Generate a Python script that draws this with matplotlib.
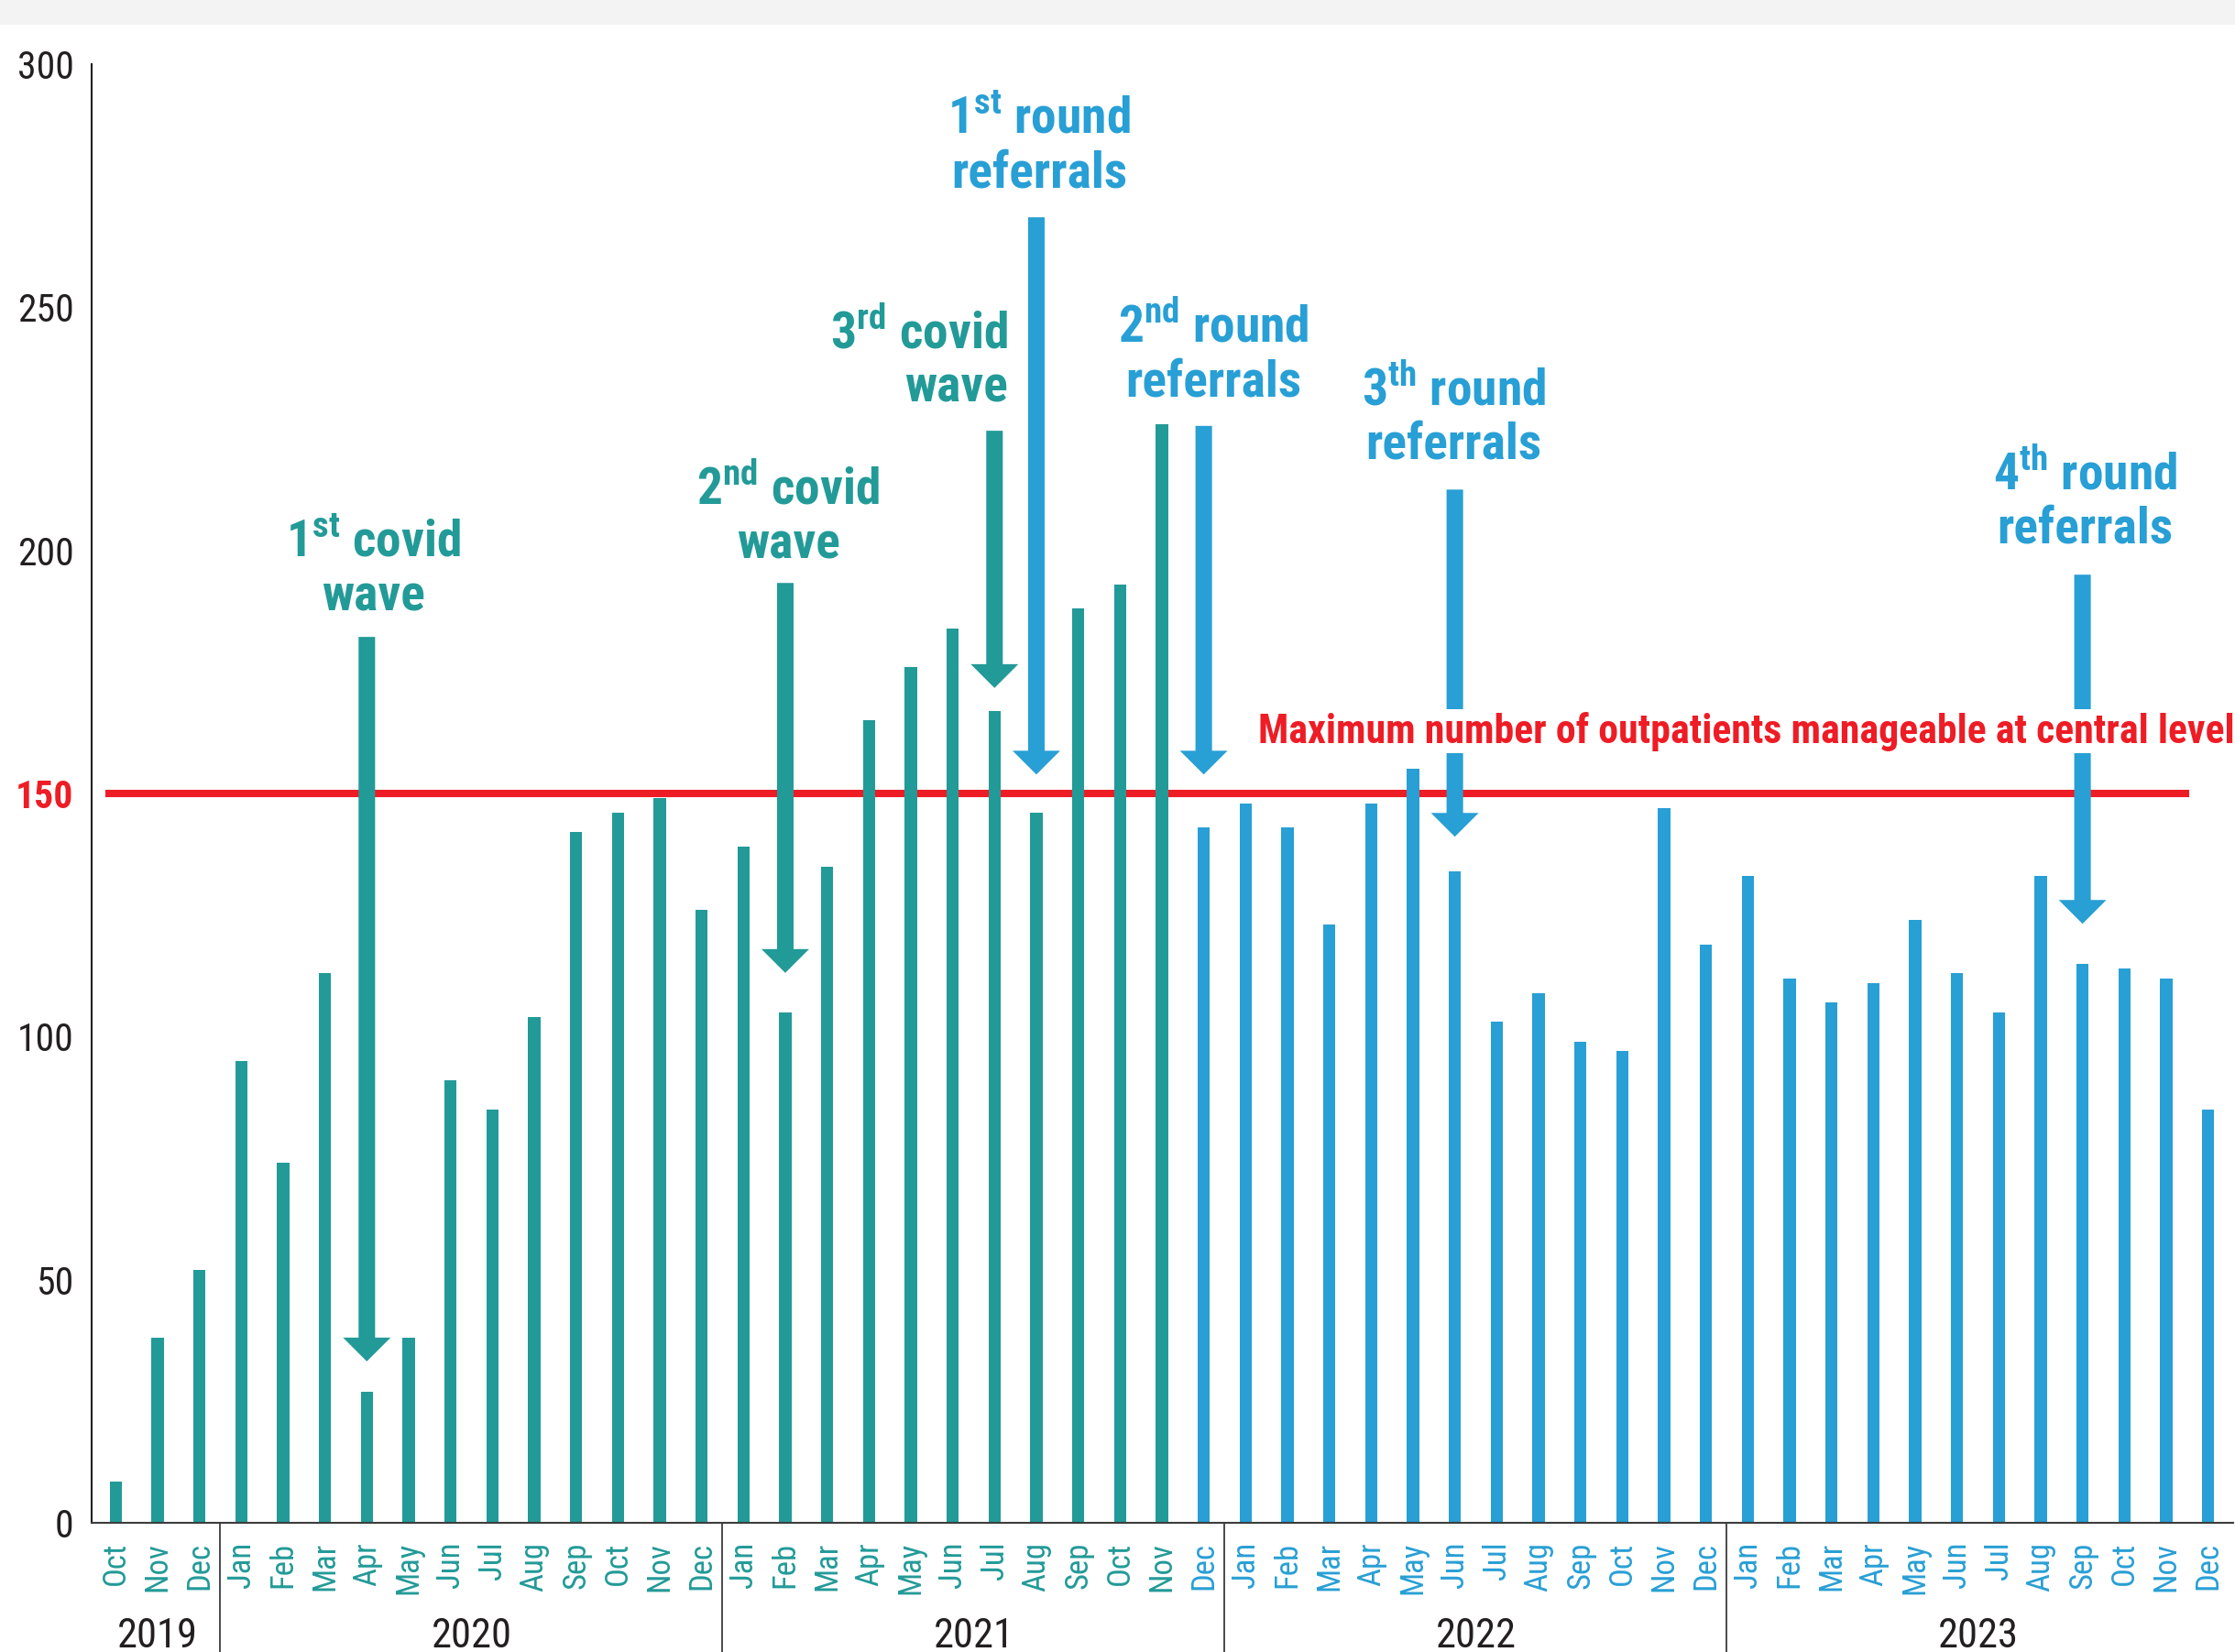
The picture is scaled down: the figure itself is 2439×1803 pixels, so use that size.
import matplotlib
matplotlib.use('Agg')
import matplotlib.pyplot as plt
from matplotlib import font_manager as fm
from matplotlib.patches import FancyArrowPatch, Rectangle, ArrowStyle
import matplotlib.transforms as mtransforms

names = {f.name for f in fm.fontManager.ttflist}
if 'Liberation Sans Narrow' in names:
    FAM = 'Liberation Sans Narrow'
elif 'Roboto Condensed' in names:
    FAM = 'Roboto Condensed'
else:
    FAM = 'Roboto'

plt.rcParams['font.family'] = [FAM, 'DejaVu Sans']
plt.rcParams['mathtext.fontset'] = 'custom'
plt.rcParams['mathtext.bf'] = f'{FAM}:bold'
plt.rcParams['mathtext.rm'] = FAM

TEAL = '#229A98'
BLUE = '#289FD5'
RED = '#EE1C25'
DARK = '#231F20'

# ---------------- data ----------------
years = ['2019', '2020', '2021', '2022', '2023']
months_2019 = ['Oct', 'Nov', 'Dec']
months_full = ['Jan', 'Feb', 'Mar', 'Apr', 'May', 'Jun',
               'Jul', 'Aug', 'Sep', 'Oct', 'Nov', 'Dec']
values_2019 = [8.5, 38, 52]
values_2020 = [95, 74, 113, 27, 38, 91, 85, 104, 142, 146, 149, 126]
values_2021 = [139, 105, 135, 165, 176, 184, 167, 146, 188, 193, 226, 143]
values_2022 = [148, 143, 123, 148, 155, 134, 103, 109, 99, 97, 147, 119]
values_2023 = [133, 112, 107, 111, 124, 113, 105, 133, 115, 114, 112, 85]
threshold = 150
threshold_label = 'Maximum number of outpatients manageable at central level'
first_blue = 26  # Dec 2021 onward drawn in blue

month_labels = months_2019 + months_full * 4
values = values_2019 + values_2020 + values_2021 + values_2022 + values_2023
year_sizes = [len(values_2019), len(values_2020), len(values_2021),
              len(values_2022), len(values_2023)]

# annotations: text lines, colour, text anchor, arrow (x index, from, to)
annotations = [
    dict(lines=[r'1$^{\mathbf{st}}$ covid', 'wave'], color=TEAL, tx=6.15, ty=198.8, ha='center',
         ax_=6, y0=182.2, y1=33.2),
    dict(lines=[r'2$^{\mathbf{nd}}$ covid', 'wave'], color=TEAL, tx=16.07, ty=209.5, ha='center',
         ax_=16, y0=193.3, y1=113.1),
    dict(lines=[r'3$^{\mathbf{rd}}$ covid', 'wave'], color=TEAL, tx=21.32, ty=241.6, ha='right',
         ax_=21, y0=224.6, y1=171.7),
    dict(lines=[r'1$^{\mathbf{st}}$ round', 'referrals'], color=BLUE, tx=22.07, ty=285.8, ha='center',
         ax_=22, y0=268.5, y1=153.9),
    dict(lines=[r'2$^{\mathbf{nd}}$ round', 'referrals'], color=BLUE, tx=26.23, ty=242.9, ha='center',
         ax_=26, y0=225.6, y1=153.9),
    dict(lines=[r'3$^{\mathbf{th}}$ round', 'referrals'], color=BLUE, tx=31.98, ty=229.9, ha='center',
         ax_=32, y0=212.5, y1=141.1),
    dict(lines=[r'4$^{\mathbf{th}}$ round', 'referrals'], color=BLUE, tx=47.07, ty=212.6, ha='center',
         ax_=47, y0=195.0, y1=123.2),
]

# ---------------- figure ----------------
W, H, DPI = 2439, 1803, 100
fig = plt.figure(figsize=(W / DPI, H / DPI), dpi=DPI, facecolor='white')
fig.add_artist(Rectangle((0, 1 - 27 / H), 1, 27 / H, transform=fig.transFigure,
                         facecolor='#F3F3F3', edgecolor='none', zorder=0))

ax = fig.add_axes([100 / W, (H - 1662) / H, (2437 - 100) / W, (1662 - 70) / H])
ax.set_facecolor('none')

x = list(range(len(values)))
colors = [TEAL if i < first_blue else BLUE for i in x]
ax.bar(x, values, width=0.29, color=colors, zorder=3)

ax.plot([-0.25, 49.55], [threshold, threshold], color=RED, lw=5.8,
        solid_capstyle='butt', zorder=2)

ax.set_xlim(-0.576, 50.6)
ax.set_ylim(0, 300)

for s in ['top', 'right']:
    ax.spines[s].set_visible(False)
ax.spines['left'].set_color(DARK)
ax.spines['left'].set_linewidth(1.5)
ax.spines['bottom'].set_color('#3d3d3d')
ax.spines['bottom'].set_linewidth(1.5)
ax.spines['bottom'].set_zorder(4)

ax.set_yticks([0, 50, 100, 150, 200, 250, 300])
ax.set_yticklabels(['0', '50', '100', '150', '200', '250', '300'])
ax.tick_params(axis='y', length=0, pad=14, labelsize=30, labelcolor=DARK)
for lab in ax.get_yticklabels():
    if lab.get_text() == '150':
        lab.set_color(RED)
        lab.set_fontweight('bold')

ax.set_xticks(x)
ax.set_xticklabels(month_labels, rotation=90)
ax.tick_params(axis='x', length=0, pad=15, labelsize=25)
for i, lab in enumerate(ax.get_xticklabels()):
    lab.set_color(TEAL if i < first_blue else BLUE)

# year groups
blend_fig = mtransforms.blended_transform_factory(ax.transData, fig.transFigure)
blend_ax = mtransforms.blended_transform_factory(ax.transData, ax.transAxes)
start = 0
for k, (yr, n) in enumerate(zip(years, year_sizes)):
    center = start + (n - 1) / 2
    ax.text(center, 5 / H, yr, transform=blend_fig, ha='center', va='baseline',
            fontsize=32, color=DARK)
    if k > 0:
        b = start - 0.5
        ax.plot([b, b], [0, -0.1], transform=blend_ax, color='#3d3d3d', lw=1.3,
                clip_on=False, zorder=4)
    start += n

# arrows and labels
style = ArrowStyle.Simple(head_length=18.7, head_width=37.4, tail_width=13)
line_step = 59 / DPI
for a in annotations:
    arr = FancyArrowPatch((a['ax_'], a['y0']), (a['ax_'], a['y1']), arrowstyle=style,
                          mutation_scale=1, color=a['color'], shrinkA=0, shrinkB=0,
                          linewidth=0, zorder=4)
    ax.add_patch(arr)
    for i, line in enumerate(a['lines']):
        tr = ax.transData + mtransforms.ScaledTranslation(0, -i * line_step, fig.dpi_scale_trans)
        ax.text(a['tx'], a['ty'], line, transform=tr, ha=a['ha'], va='baseline',
                fontsize=40, fontweight='bold', color=a['color'], zorder=6)

ax.text(27.3, 160.4, threshold_label, ha='left', va='baseline', fontsize=31.6,
        fontweight='bold', color=RED, zorder=5,
        bbox=dict(facecolor='white', edgecolor='none', pad=2))

fig.savefig('out.png', dpi=DPI, facecolor='white')
